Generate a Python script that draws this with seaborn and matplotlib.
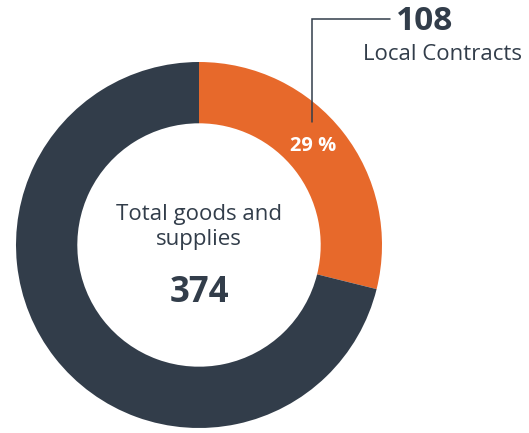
import matplotlib
matplotlib.use("Agg")
import matplotlib.pyplot as plt
import seaborn as sns

sns.set_style("white")
plt.rcParams['font.family'] = ['Open Sans', 'DejaVu Sans']

categories = ["Local Contracts", "Other"]
values = [108, 266]
total_label = "374"
center_title = "Total goods and\nsupplies"
pct_label = "29 %"

DARK = "#323d4a"
ORANGE = "#e7692b"

W, H = 529, 433
fig = plt.figure(figsize=(W / 100, H / 100), dpi=100)
ax = fig.add_axes([0, 0, 1, 1])

cx, cy, R = 199, H - 245, 183
ax.pie(values, colors=[ORANGE, DARK], startangle=90, counterclock=False,
       center=(cx, cy), radius=R, frame=True,
       wedgeprops=dict(width=R * 0.335, edgecolor="none"))
ax.set_xlim(0, W)
ax.set_ylim(0, H)
ax.set_aspect("equal")
ax.axis("off")

ax.text(cx, H - 227, center_title, ha="center", va="center", fontsize=16,
        color=DARK, linespacing=1.2)
ax.text(cx, H - 293, total_label, ha="center", va="center", fontsize=25,
        fontweight="bold", color=DARK)
ax.text(313, H - 146, pct_label, ha="center", va="center", fontsize=14.5,
        fontweight="bold", color="white")

ax.plot([312, 312, 390], [H - 122, H - 19, H - 19], color=DARK, lw=1.1,
        solid_joinstyle="miter")
ax.text(396, H - 22, str(values[0]), ha="left", va="center", fontsize=24,
        fontweight="bold", color=DARK)
ax.text(522, H - 54, categories[0], ha="right", va="center", fontsize=16,
        color=DARK)

fig.savefig("out.png", dpi=100)
